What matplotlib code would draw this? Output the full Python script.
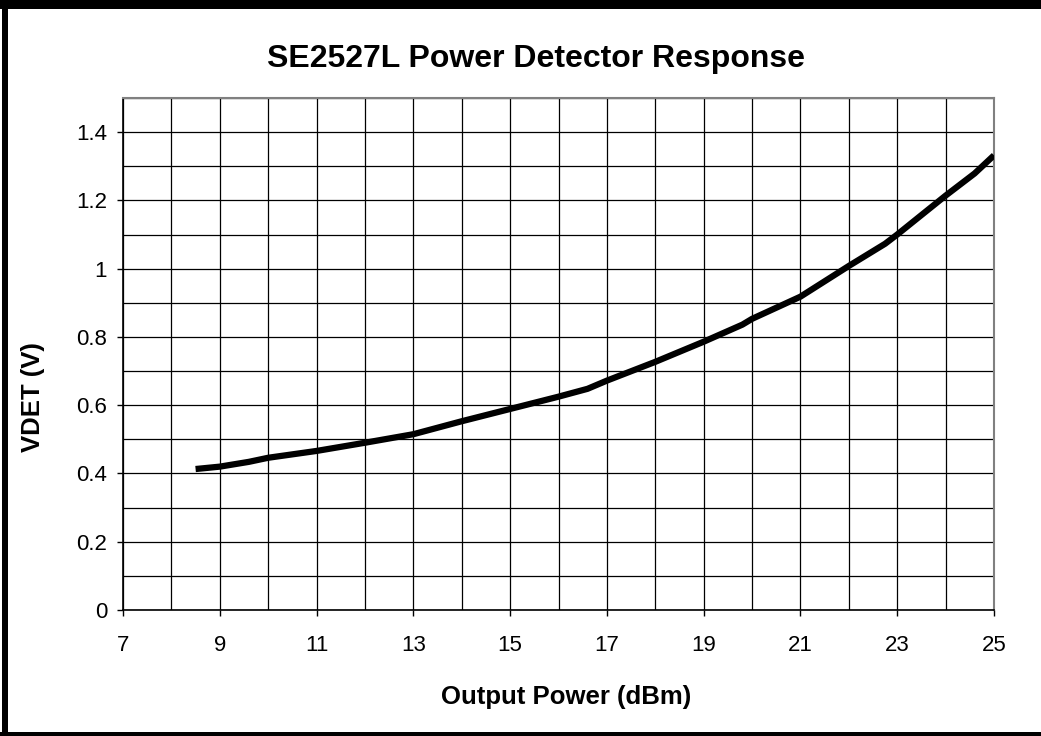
import numpy as np
import matplotlib.pyplot as plt
from matplotlib.patches import Rectangle
from matplotlib.ticker import MultipleLocator

plt.rcParams['font.family'] = ['Liberation Sans', 'DejaVu Sans']

# output power (dBm) and detector voltage (V)
pout = [8.5, 9.0, 9.6, 10.0, 11.0, 12.0, 13.0, 14.0, 15.0, 16.0, 16.6,
        17.0, 18.0, 19.0, 19.8, 20.0, 21.0, 21.3, 22.0, 22.75, 23.0, 24.0,
        24.6, 25.0]
vdet = [0.413, 0.420, 0.434, 0.446, 0.466, 0.490, 0.515, 0.553, 0.589, 0.625,
        0.648, 0.672, 0.727, 0.786, 0.836, 0.853, 0.918, 0.945, 1.008, 1.073,
        1.100, 1.214, 1.279, 1.332]

x_ticks = [7, 9, 11, 13, 15, 17, 19, 21, 23, 25]
y_ticks = [0, 0.2, 0.4, 0.6, 0.8, 1.0, 1.2, 1.4]
y_labels = ['0', '0.2', '0.4', '0.6', '0.8', '1', '1.2', '1.4']

fig = plt.figure(figsize=(10.41, 7.36), dpi=100)
ax = fig.add_axes([123/1041, 1-610/736, (994-123)/1041, (610-98)/736])

ax.plot(pout, vdet, color='black', lw=4.5, solid_capstyle='butt', zorder=3)

ax.set_xlim(7, 25)
ax.set_ylim(0, 1.5)
ax.set_xticks(x_ticks)
ax.set_yticks(y_ticks)
ax.set_yticklabels(y_labels)
ax.xaxis.set_minor_locator(MultipleLocator(1))
ax.yaxis.set_minor_locator(MultipleLocator(0.1))
ax.grid(which='both', color='black', lw=0.9)
ax.tick_params(which='major', direction='out', length=4, width=1, labelsize=16)
ax.tick_params(axis='x', pad=14)
ax.tick_params(axis='y', pad=7.5)
ax.tick_params(which='minor', length=0)
for s in ['top', 'right']:
    ax.spines[s].set_color('#808080')
    ax.spines[s].set_linewidth(1.5)
for s in ['left', 'bottom']:
    ax.spines[s].set_linewidth(1.2)

fig.text(536/1041, 1-67/736, 'SE2527L Power Detector Response', fontsize=23,
         fontweight='bold', ha='center', va='baseline')
ax.set_xlabel('Output Power (dBm)', fontsize=18.5, fontweight='bold')
ax.set_ylabel('VDET (V)', fontsize=18.5, fontweight='bold')
ax.xaxis.set_label_coords(0.509, -0.146)
ax.yaxis.set_label_coords(-0.089, 0.416)

# black frame around the chart (no right edge in the source)
fig.add_artist(Rectangle((0, 1-9/736), 1, 9/736, transform=fig.transFigure,
                         color='black', lw=0))
fig.add_artist(Rectangle((2/1041, 0), 6/1041, 1, transform=fig.transFigure,
                         color='black', lw=0))
fig.add_artist(Rectangle((0, 0), 1, 4/736, transform=fig.transFigure,
                         color='black', lw=0))

plt.savefig('out.png', dpi=100)
